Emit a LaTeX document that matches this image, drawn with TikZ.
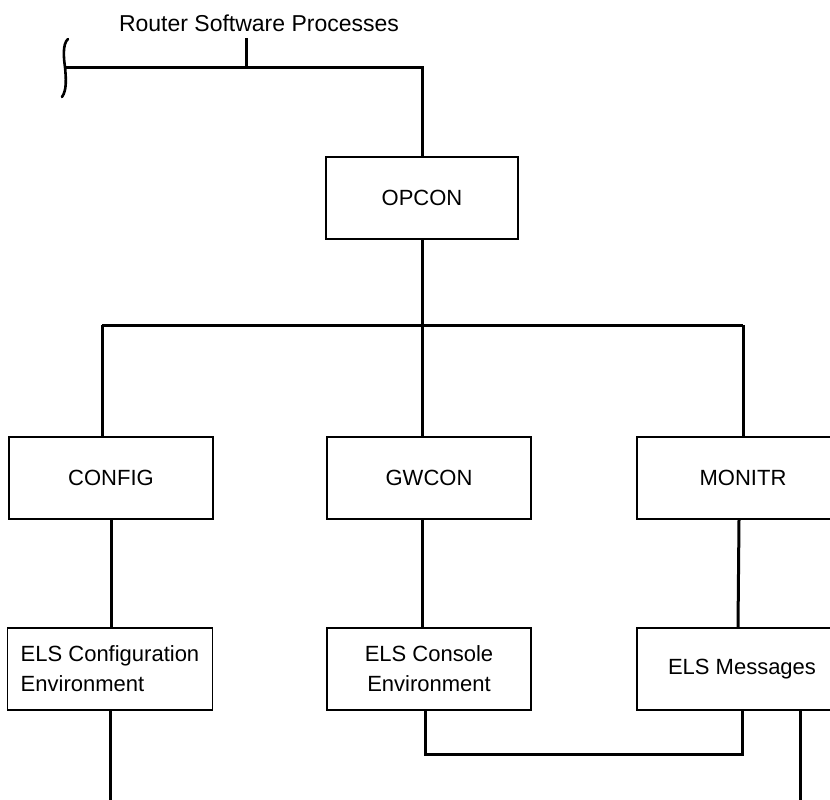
\documentclass[tikz,border=0pt]{standalone}
\usepackage{fontspec}
\setmainfont{Liberation Sans}
\usetikzlibrary{calc}

\begin{document}
\begin{tikzpicture}[x=0.5pt,y=-0.5pt,
    box/.style={draw,line width=0.9pt,minimum width=#1*0.5pt,minimum height=41pt,
        inner sep=0pt,align=center,font=\fontsize{11}{15}\selectfont},
    wire/.style={line width=1.5pt}]
    \clip (0,0) rectangle (830,799);
    % title and the brace
    \node[font=\fontsize{11.5}{14}\selectfont] (title) at (259,23) {Router Software Processes};
    \coordinate (brace) at (65,67);
    \draw[line width=1.3pt,line cap=round] (68,39) .. controls (62,44) and (64,60) .. (brace)
        .. controls (66,78) and (67,90) .. (62,97);
    \draw[wire] (246,38) -- (246,67);
    % boxes
    \node[box=192] (opcon) at (422,198) {OPCON};
    \node[box=204] (config) at (111,478) {CONFIG};
    \node[box=204] (gwcon) at (429,478) {GWCON};
    \node[box=212] (monitr) at (743,478) {MONITR};
    \node[box=205,align=left] (elscfg) at (110,669) {ELS Configuration\\Environment};
    \node[box=204] (elscon) at (429,669) {ELS Console\\Environment};
    \node[box=210] (elsmsg) at (742,669) {ELS Messages};
    % connectors
    \draw[wire] (brace) -| (opcon.north);
    \coordinate (busL) at (102,325);
    \coordinate (busR) at (743,325);
    \draw[wire] (busL) -- (busR);
    \draw[wire] (opcon.south) -- (opcon.south |- gwcon.north);
    \draw[wire] (busL) -- (busL |- config.north);
    \draw[wire] (busR) -- (monitr.north);
    \draw[wire] (config.south) -- (config.south |- elscfg.north);
    \draw[wire] (opcon.south |- gwcon.south) -- (opcon.south |- elscon.north);
    \draw[wire] ($(monitr.south)+(-4,0)$) -- ($(elsmsg.north)+(-4,0)$);
    \draw[wire] (elscfg.south) -- (elscfg.south |- 0,810);
    \coordinate (loop) at (elsmsg.south |- 0,754);
    \draw[wire] ($(opcon.south |- elscon.south)+(3,0)$) |- (loop) -- (elsmsg.south);
    \draw[wire] ($(elsmsg.south)+(58,0)$) -- ++(0,100);
\end{tikzpicture}
\end{document}
